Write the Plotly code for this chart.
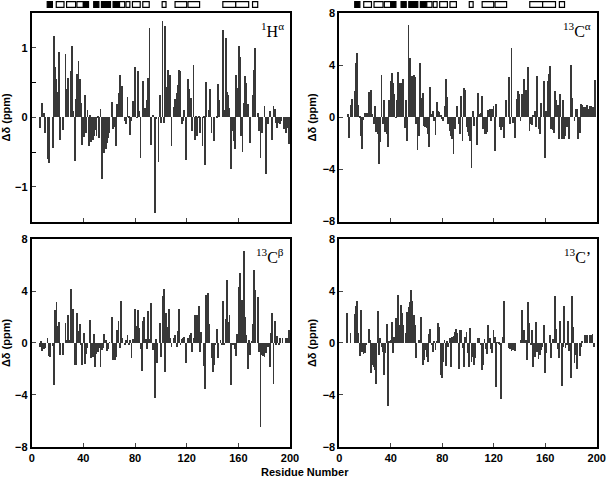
import plotly.graph_objects as go

# chemical shift deviations, (residue, delta ppm)
ha = [(6,-0.15),(8,0.2),(9,0.06),(10,-0.22),(12,-0.6),(13,-0.66),(16,-0.44),(17,1.17),(18,0.72),(19,0.55),
      (20,0.37),(21,0.94),(22,-0.32),(24,-0.18),(26,0.91),(27,0.41),(28,0.56),(30,0.67),(31,1.02),(32,0.09),
      (33,-0.63),(34,0.26),(35,0.62),(36,0.81),(37,0.55),(38,0.2),(39,-0.4),(40,-0.28),(41,0.32),(42,-0.22),
      (43,0.11),(44,-0.41),(45,0.03),(46,-0.36),(47,-0.32),(48,-0.27),(49,-0.18),(50,-0.27),(51,0.01),(52,-0.3),
      (53,0.12),(54,-0.89),(55,-0.41),(56,-0.51),(57,-0.46),(58,-0.37),(59,-0.3),(60,-0.22),(62,0.22),(63,-0.17),
      (64,-0.14),(65,-0.41),(66,0.19),(67,0.35),(68,0.61),(69,0.43),(70,0.45),(72,-0.05),(73,-0.1),(74,0.29),
      (75,0.02),(76,-0.26),(77,-0.06),(78,0.24),(80,0.73),(81,-0.01),(82,0.67),(83,0.09),(84,-0.58),(86,0.52),
      (87,0.13),(88,0.13),(89,0.25),(90,0.56),(91,1.28),(92,-0.4),(94,0.04),(95,-1.38),(96,-0.03),(98,-0.64),
      (99,0.32),(100,-0.08),(101,1.38),(102,-0.08),(103,1.32),(104,0.44),(105,0.68),(107,0.61),(108,-0.41),
      (110,0.15),(111,0.26),(112,0.35),(113,0.47),(114,0.68),(115,0.67),(116,-0.1),(117,-0.06),(118,0.11),
      (119,-0.61),(121,0.55),(122,0.4),(123,0.28),(124,-0.19),(125,0.75),(126,-0.33),(127,0.02),(128,-0.27),
      (129,0.02),(130,-0.22),(132,-0.41),(133,0.01),(134,-0.69),(135,0.51),(137,0.11),(138,0.41),(139,-0.22),
      (141,-0.34),(143,0.01),(144,0.48),(145,0.25),(148,1.26),(149,0.11),(150,1.14),(151,0.37),(152,0.32),
      (153,0.13),(154,-0.74),(155,-0.2),(156,-0.34),(157,-0.46),(158,0.61),(159,0.42),(160,1.02),(161,0.87),
      (162,-0.27),(163,-0.5),(164,0.2),(165,0.6),(166,0.5),(167,0.19),(169,-0.37),(171,0.32),(172,0.68),
      (173,1.0),(175,0.06),(176,-0.2),(177,-0.58),(178,-0.23),(180,0.16),(181,-0.82),(183,-0.1),(184,0.09),
      (186,-0.32),(187,0.16),(188,0.12),(189,-0.08),(190,-0.16),(191,-0.08),(192,-0.1),(193,-0.06),
      (195,-0.17),(197,-0.22),(198,-0.15),(199,-0.39)]

ca = [(7,0.26),(8,-1.55),(9,0.98),(10,1.42),(12,2.0),(13,4.13),(14,4.95),(15,0.98),(16,0.13),(17,-1.42),
      (18,-2.4),(19,-0.21),(20,0.3),(21,0.3),(22,0.3),(23,1.93),(24,0.72),(25,2.06),(26,0.26),(27,-0.5),
      (28,0.88),(29,-1.16),(30,-1.29),(31,-3.6),(32,-1.93),(33,3.28),(34,-0.5),(35,1.34),(36,-1.16),(37,-1.29),
      (38,-2.26),(39,1.34),(40,2.77),(41,3.43),(42,2.64),(43,1.8),(44,-0.05),(45,1.29),(46,3.48),(47,2.64),
      (48,2.6),(49,0.77),(50,2.97),(51,-0.83),(52,1.29),(53,-1.8),(54,7.1),(55,4.57),(56,3.2),(57,3.2),
      (58,3.25),(59,3.1),(60,-0.5),(61,-2.5),(62,-1.42),(63,4.13),(64,1.45),(65,1.86),(66,-0.65),(67,-0.77),
      (68,-0.85),(69,-1.29),(70,-2.25),(71,2.32),(72,0.26),(73,0.52),(74,-0.31),(75,-1.37),(76,1.16),(77,0.52),
      (78,0.39),(79,0.21),(80,-0.13),(81,-0.31),(82,0.83),(83,2.92),(84,1.55),(85,-0.5),(86,-1.08),(87,-1.42),
      (88,-1.68),(89,-2.84),(90,-0.9),(92,0.9),(93,-0.5),(94,-1.29),(95,1.63),(96,-1.8),(97,2.26),(98,2.1),
      (99,-0.72),(100,-1.16),(101,-1.42),(102,-1.8),(103,-3.87),(104,0.52),(105,-0.65),(107,-2.1),(108,1.88),
      (109,0.28),(110,0.3),(111,1.6),(112,-0.9),(113,-1.25),(114,-1.3),(115,-1.1),(116,0.58),(117,0.6),
      (118,-0.26),(119,0.65),(120,0.83),(121,-2.6),(122,1.05),(125,-0.72),(126,-0.98),(127,-0.77),(128,-1.55),
      (130,1.29),(132,3.1),(133,-0.52),(134,5.29),(135,-0.46),(137,-1.55),(138,1.37),(139,2.01),(140,1.8),
      (141,-0.26),(142,1.8),(143,0.95),(144,2.92),(145,2.06),(147,3.87),(148,-1.03),(149,-0.52),(150,-0.6),
      (151,0.2),(152,0.46),(153,-0.77),(154,3.15),(155,-0.9),(156,-1.29),(157,1.1),(159,2.76),(160,-3.1),
      (161,0.52),(162,2.76),(163,3.35),(164,3.92),(165,-0.9),(166,-0.98),(167,-1.24),(168,2.01),(169,1.29),
      (170,0.98),(171,-1.68),(172,1.8),(173,-1.68),(174,1.29),(175,-1.68),(176,-1.42),(177,-0.77),(178,-0.65),
      (179,-1.68),(180,4.0),(181,1.47),(183,-0.26),(184,0.65),(185,0.65),(186,-1.68),(187,-1.24),(188,1.03),
      (189,0.95),(190,0.77),(191,0.77),(192,0.57),(193,0.98),(194,0.65),(195,0.9),(196,0.83),(197,0.77),
      (198,0.77),(199,2.84)]

cb = [(6,-0.3),(7,0.13),(8,-0.62),(9,-0.5),(10,-0.39),(12,0.38),(13,-1.03),(14,-1.08),(16,-0.26),(17,-3.28),
      (18,2.55),(19,3.15),(20,1.27),(21,1.6),(22,-0.96),(24,-0.95),(26,1.5),(27,0.18),(28,2.14),(29,0.2),
      (30,4.13),(31,1.16),(32,2.62),(33,-1.73),(34,-1.7),(35,2.3),(36,0.88),(37,1.46),(38,-0.2),(39,-1.7),
      (40,0.72),(41,-1.68),(42,-0.9),(43,-0.42),(45,1.74),(46,-1.21),(47,-1.1),(48,0.66),(49,-1.86),(50,-0.86),
      (51,-0.72),(52,-0.42),(53,-1.86),(54,-0.55),(55,-0.4),(56,0.68),(57,0.18),(58,-0.63),(59,-0.5),(60,0.05),
      (62,1.98),(63,-1.34),(64,-1.34),(65,-1.1),(66,1.0),(67,1.7),(68,-0.4),(69,3.23),(70,0.36),(72,-0.18),
      (73,0.2),(74,0.6),(75,-0.2),(76,0.2),(77,-1.16),(78,0.25),(80,2.62),(81,1.3),(82,2.56),(83,1.1),
      (84,-0.45),(85,-2.2),(86,1.68),(87,1.95),(88,0.26),(89,-0.52),(90,2.45),(91,0.26),(92,3.1),(94,-0.55),
      (95,-4.28),(96,0.3),(97,-1.6),(99,1.5),(100,-1.08),(101,3.6),(102,4.15),(103,-2.25),(104,2.27),(105,1.24),
      (106,2.58),(107,0.33),(108,-0.36),(110,0.33),(111,0.6),(112,-0.36),(113,0.9),(114,2.58),(115,-0.2),
      (116,0.26),(117,0.33),(118,0.41),(119,-1.6),(121,0.33),(122,0.6),(123,0.72),(124,-0.7),(125,0.33),
      (126,2.14),(127,0.6),(128,2.14),(129,2.86),(130,-0.7),(131,0.85),(133,-1.8),(134,-3.6),(135,3.7),
      (136,3.87),(137,1.45),(139,-1.2),(140,-2.25),(141,-1.73),(142,-0.2),(143,1.06),(144,-1.2),(146,0.2),
      (147,-0.2),(148,3.23),(149,-0.2),(150,1.8),(151,4.85),(152,1.6),(153,2.14),(154,-3.28),(155,-0.2),
      (156,-0.2),(157,-0.5),(158,-1.03),(159,0.67),(160,4.28),(161,5.37),(162,3.3),(163,3.3),(164,7.05),
      (165,2.0),(166,0.6),(167,-2.0),(168,0.2),(169,-0.95),(170,0.1),(171,1.45),(172,5.6),(173,4.1),(175,3.5),
      (176,-0.7),(177,-6.5),(178,-0.95),(179,-1.0),(180,-1.13),(181,-0.83),(183,-0.3),(184,-1.9),(185,0.77),
      (186,2.32),(187,-3.2),(188,1.7),(189,-0.2),(190,0.52),(191,-0.2),(192,0.34),(194,0.34),(197,0.34),
      (198,0.34),(199,1.0)]

co = [(6,2.26),(9,0.72),(12,2.18),(13,2.85),(14,3.2),(15,0.72),(16,-1.03),(17,2.56),(18,-0.7),(19,-0.87),
      (20,-0.82),(21,-0.2),(23,1.03),(24,0.2),(25,-2.36),(26,-1.72),(27,-1.85),(28,-2.1),(29,-3.18),(30,2.44),
      (31,-0.95),(32,0.33),(33,-0.31),(34,-0.69),(35,-2.49),(36,-0.82),(37,1.41),(38,-4.87),(39,0.08),(40,0.2),
      (41,1.62),(42,-0.82),(43,0.46),(44,1.92),(45,0.59),(46,3.67),(47,1.36),(48,2.9),(49,2.31),(50,1.36),
      (52,0.72),(53,2.38),(54,2.77),(55,3.15),(56,4.1),(57,3.2),(58,2.13),(59,1.36),(60,-1.15),(62,0.2),
      (64,2.0),(65,-1.72),(66,-1.33),(67,-0.56),(68,-1.08),(69,-1.46),(70,0.67),(71,1.03),(72,-0.2),(73,-0.69),
      (74,0.08),(75,-0.56),(76,0.08),(77,1.54),(78,1.18),(79,-2.49),(80,-2.74),(81,-1.46),(82,0.2),(83,-1.79),
      (84,0.15),(85,-0.3),(86,0.33),(87,-1.9),(88,0.46),(89,0.51),(90,0.85),(91,1.08),(92,0.72),(93,-2.05),
      (94,0.97),(95,0.97),(96,-0.44),(97,-1.9),(98,0.46),(99,0.85),(100,-0.82),(101,-1.85),(102,1.1),
      (103,-1.46),(104,-1.08),(105,-1.72),(106,-1.2),(108,0.38),(109,0.33),(110,-0.2),(111,-2.1),(112,-1.72),
      (113,0.3),(114,-0.51),(115,-0.87),(116,1.36),(117,0.38),(118,-0.51),(119,-0.82),(120,0.97),(121,0.46),
      (122,-3.38),(123,0.05),(124,-0.05),(125,-0.2),(126,-4.33),(127,0.46),(128,3.2),(132,-0.44),(133,-0.51),
      (134,-0.62),(135,-0.56),(136,-0.51),(137,-0.62),(141,0.2),(142,2.56),(143,0.97),(144,0.97),(145,0.2),
      (146,-1.33),(147,3.15),(148,1.49),(149,-0.2),(150,0.97),(151,-1.9),(152,-1.08),(153,1.62),(154,-0.69),
      (155,-1.28),(156,-0.95),(157,-0.56),(158,-0.31),(159,1.36),(160,-2.36),(161,-0.77),(164,0.59),
      (165,-1.2),(166,0.26),(168,3.62),(169,1.03),(170,-0.51),(171,-1.2),(172,1.67),(173,-3.33),(174,-0.31),
      (175,2.85),(176,-0.44),(177,-0.2),(178,1.67),(179,-0.62),(180,-2.74),(181,3.6),(182,1.23),(183,-1.54),
      (184,-0.95),(185,-2.05),(187,-1.03),(188,-0.31),(189,0.08),(191,0.59),(192,0.59),(193,0.59),(195,0.59),
      (196,0.59),(197,0.64),(198,-0.31)]

# secondary structure boxes: (start, end, filled)
ss_elems = [(12,16,True),(19,25,False),(27,34,False),(35,40,False),(40,44,True),(48,52,True),
            (54,61,True),(63,68,True),(68,72,False),(73,76,False),(78,84,False),(86,91,False),
            (101,104,False),(111,120,False),(121,130,False),(148,158,False),(158,168,False),(171,175,False)]

panels = [
    (ha, "<sup>1</sup>H<sup>α</sup>", [-1.5, 1.5], [-1, 0, 1]),
    (ca, "<sup>13</sup>C<sup>α</sup>", [-8, 8], [-8, -4, 0, 4, 8]),
    (cb, "<sup>13</sup>C<sup>β</sup>", [-8, 8], [-8, -4, 0, 4, 8]),
    (co, "<sup>13</sup>C’", [-8, 8], [-8, -4, 0, 4, 8]),
]

xdom = [[0.052, 0.4754], [0.5562, 0.9782]]
ydom = [[0.5383, 0.9729], [0.0694, 0.5015]]

bold = dict(family="Liberation Sans, Arial", size=11, color="black", weight="bold")

fig = go.Figure()
for i, (data, label, yr, tv) in enumerate(panels):
    n = "" if i == 0 else str(i + 1)
    row, col = i // 2, i % 2
    fig.add_trace(go.Bar(
        x=[d[0] for d in data], y=[d[1] for d in data],
        width=0.65, marker=dict(color="#383838", line_width=0),
        xaxis="x" + n, yaxis="y" + n, showlegend=False))
    fig.layout["xaxis" + n] = dict(
        domain=xdom[col], anchor="y" + n, range=[0, 200], tickvals=[0, 40, 80, 120, 160, 200],
        showticklabels=(row == 1), ticks="inside", ticklen=4, tickwidth=1.3, automargin=False,
        showline=True, linewidth=1.8, linecolor="black", mirror=True,
        showgrid=False, zeroline=False, tickfont=bold)
    fig.layout["yaxis" + n] = dict(
        domain=ydom[row], anchor="x" + n, range=yr, tickvals=tv, automargin=False,
        ticks="inside", ticklen=4, tickwidth=1.3,
        showline=True, linewidth=1.8, linecolor="black", mirror=True,
        showgrid=False, zeroline=False, tickfont=bold,
        title=dict(text="Δδ (ppm)", font=bold, standoff=4))
    if i == 0:
        fig.layout["yaxis" + n].minor = dict(dtick=0.5, ticks="inside", ticklen=4, tickcolor="black")
    fig.add_annotation(text=label, xref="x" + n + " domain", yref="y" + n + " domain",
                       x=0.985, y=0.975, xanchor="right", yanchor="top", showarrow=False,
                       font=dict(family="Liberation Serif, Times New Roman", size=16, color="black"))

# secondary structure above the top panels
for n in ["", "2"]:
    for s, e, filled in ss_elems:
        fig.add_shape(type="rect", xref="x" + n, yref="paper", x0=s, x1=e, y0=0.9845, y1=0.9965,
                      line=dict(color="black", width=1.2),
                      fillcolor="black" if filled else "white")

fig.add_annotation(text="Residue Number", xref="paper", yref="paper", x=0.5, y=0.0,
                   xanchor="center", yanchor="bottom", showarrow=False, font=bold)

fig.update_layout(width=610, height=480, margin=dict(l=0, r=0, t=0, b=0),
                  plot_bgcolor="white", paper_bgcolor="white", bargap=0)

# page body has a default margin; drop it so the figure sits at the window corner
fig.write_html("out.html", config={"displayModeBar": False},
               post_script="document.body.style.margin='0';")
